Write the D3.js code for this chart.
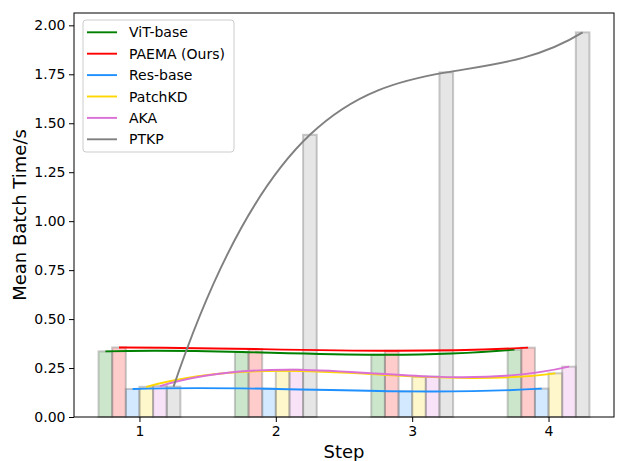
<!DOCTYPE html>
<html>
<head>
<meta charset="utf-8">
<script src="https://cdn.jsdelivr.net/npm/d3@7"></script>
<style>
  body { margin: 0; background: #fff; }
  svg text { font-family: "DejaVu Sans", sans-serif; }
</style>
</head>
<body>
<div class="chart"></div>
<script>
// data
let steps = [1, 2, 3, 4];
let methods = ["ViT-base", "PAEMA (Ours)", "Res-base", "PatchKD", "AKA", "PTKP"];
let colors = ["#008000", "#ff0000", "#1e90ff", "#ffd700", "#da70d6", "#808080"];
let offsets = [-0.25, -0.15, -0.05, 0.05, 0.15, 0.25];

let vitBase = [0.335, 0.332, 0.318, 0.344];
let paema   = [0.355, 0.347, 0.338, 0.354];
let resBase = [0.143, 0.144, 0.131, 0.145];
let patchKD = [0.154, 0.236, 0.206, 0.223];
let aka     = [0.158, 0.241, 0.206, 0.257];
let ptkp    = [0.155, 1.441, 1.760, 1.964];

let yTicks = [0, 0.25, 0.5, 0.75, 1.0, 1.25, 1.5, 1.75, 2.0];

let series = [vitBase, paema, resBase, patchKD, aka, ptkp];

let W = 617, H = 461;
let margin = {top: 13, right: 3, bottom: 44, left: 74};

let x = d3.scaleLinear().domain([0.52, 4.48]).range([margin.left, W - margin.right]);
let y = d3.scaleLinear().domain([0, 2.063]).range([H - margin.bottom, margin.top]);
let barW = x(0.1) - x(0);

let svg = d3.select(".chart").append("svg")
  .attr("width", W)
  .attr("height", H);

// smooth curve: piecewise bezier following the interpolating polynomial through the points
function curvePoly(context) {
  let pts = [];
  return {
    areaStart() {}, areaEnd() {},
    lineStart() { pts = []; },
    point(px, py) { pts.push([+px, +py]); },
    lineEnd() {
      let n = pts.length;
      if (!n) return;
      let slope = pts.map((p, i) => {
        let s = 0;
        for (let j = 0; j < n; j++) {
          if (j === i) {
            let d = 0;
            for (let k = 0; k < n; k++) if (k !== i) d += 1 / (pts[i][0] - pts[k][0]);
            s += pts[i][1] * d;
          } else {
            let num = 1, den = 1;
            for (let k = 0; k < n; k++) {
              if (k === j) continue;
              den *= pts[j][0] - pts[k][0];
              if (k !== i) num *= pts[i][0] - pts[k][0];
            }
            s += pts[j][1] * num / den;
          }
        }
        return s;
      });
      context.moveTo(pts[0][0], pts[0][1]);
      for (let i = 0; i < n - 1; i++) {
        let h = pts[i + 1][0] - pts[i][0];
        context.bezierCurveTo(
          pts[i][0] + h / 3, pts[i][1] + slope[i] * h / 3,
          pts[i + 1][0] - h / 3, pts[i + 1][1] - slope[i + 1] * h / 3,
          pts[i + 1][0], pts[i + 1][1]);
      }
    }
  };
}

// bars
series.forEach((vals, m) => {
  svg.append("g")
    .selectAll("rect")
    .data(vals)
    .enter()
    .append("rect")
    .attr("x", (d, i) => x(steps[i] + offsets[m]) - barW / 2)
    .attr("y", d => y(d))
    .attr("width", barW)
    .attr("height", d => y(0) - y(d))
    .attr("fill", colors[m])
    .attr("fill-opacity", 0.2)
    .attr("stroke", "#808080")
    .attr("stroke-opacity", 0.42)
    .attr("stroke-width", 2);
});

// lines
let line = d3.line()
  .x(d => x(d.s))
  .y(d => y(d.v))
  .curve(curvePoly);

series.forEach((vals, m) => {
  svg.append("path")
    .datum(vals.map((v, i) => ({s: steps[i] + offsets[m], v: v})))
    .attr("d", line)
    .attr("fill", "none")
    .attr("stroke", colors[m])
    .attr("stroke-width", 1.9);
});

// axes
let yAxis = svg.append("g")
  .attr("transform", "translate(" + margin.left + ",0)")
  .call(d3.axisLeft(y).tickValues(yTicks).tickFormat(d3.format(".2f")).tickSize(5).tickPadding(3.5).tickSizeOuter(0));
let xAxis = svg.append("g")
  .attr("transform", "translate(0," + (H - margin.bottom) + ")")
  .call(d3.axisBottom(x).tickValues(steps).tickFormat(d3.format("d")).tickSize(5).tickPadding(4).tickSizeOuter(0));
[yAxis, xAxis].forEach(g => {
  g.select(".domain").remove();
  g.selectAll("text").style("font-size", "14px").attr("fill", "#000").style("font-family", "DejaVu Sans");
  g.selectAll("line").attr("stroke", "#000").attr("stroke-width", 1);
});

svg.append("rect")
  .attr("x", margin.left)
  .attr("y", margin.top)
  .attr("width", W - margin.left - margin.right)
  .attr("height", H - margin.top - margin.bottom)
  .attr("fill", "none")
  .attr("stroke", "#000")
  .attr("stroke-width", 1);

// axis titles
svg.append("text")
  .attr("x", (margin.left + W - margin.right) / 2)
  .attr("y", 458)
  .attr("text-anchor", "middle")
  .style("font-size", "18px")
  .text("Step");

svg.append("text")
  .attr("transform", "translate(26," + ((margin.top + H - margin.bottom) / 2) + ") rotate(-90)")
  .attr("text-anchor", "middle")
  .style("font-size", "18px")
  .text("Mean Batch Time/s");

// legend
let legend = svg.append("g").attr("transform", "translate(83,20)");
legend.append("rect")
  .attr("width", 151)
  .attr("height", 132)
  .attr("rx", 3)
  .attr("fill", "#fff")
  .attr("fill-opacity", 0.8)
  .attr("stroke", "#cccccc")
  .attr("stroke-width", 1);

methods.forEach((name, i) => {
  let ly = 12.3 + i * 21.4;
  legend.append("line")
    .attr("x1", 4).attr("x2", 34)
    .attr("y1", ly).attr("y2", ly)
    .attr("stroke", colors[i])
    .attr("stroke-width", 1.9);
  legend.append("text")
    .attr("x", 46)
    .attr("y", ly)
    .attr("dy", "0.36em")
    .style("font-size", "14px")
    .text(name);
});
</script>
</body>
</html>
